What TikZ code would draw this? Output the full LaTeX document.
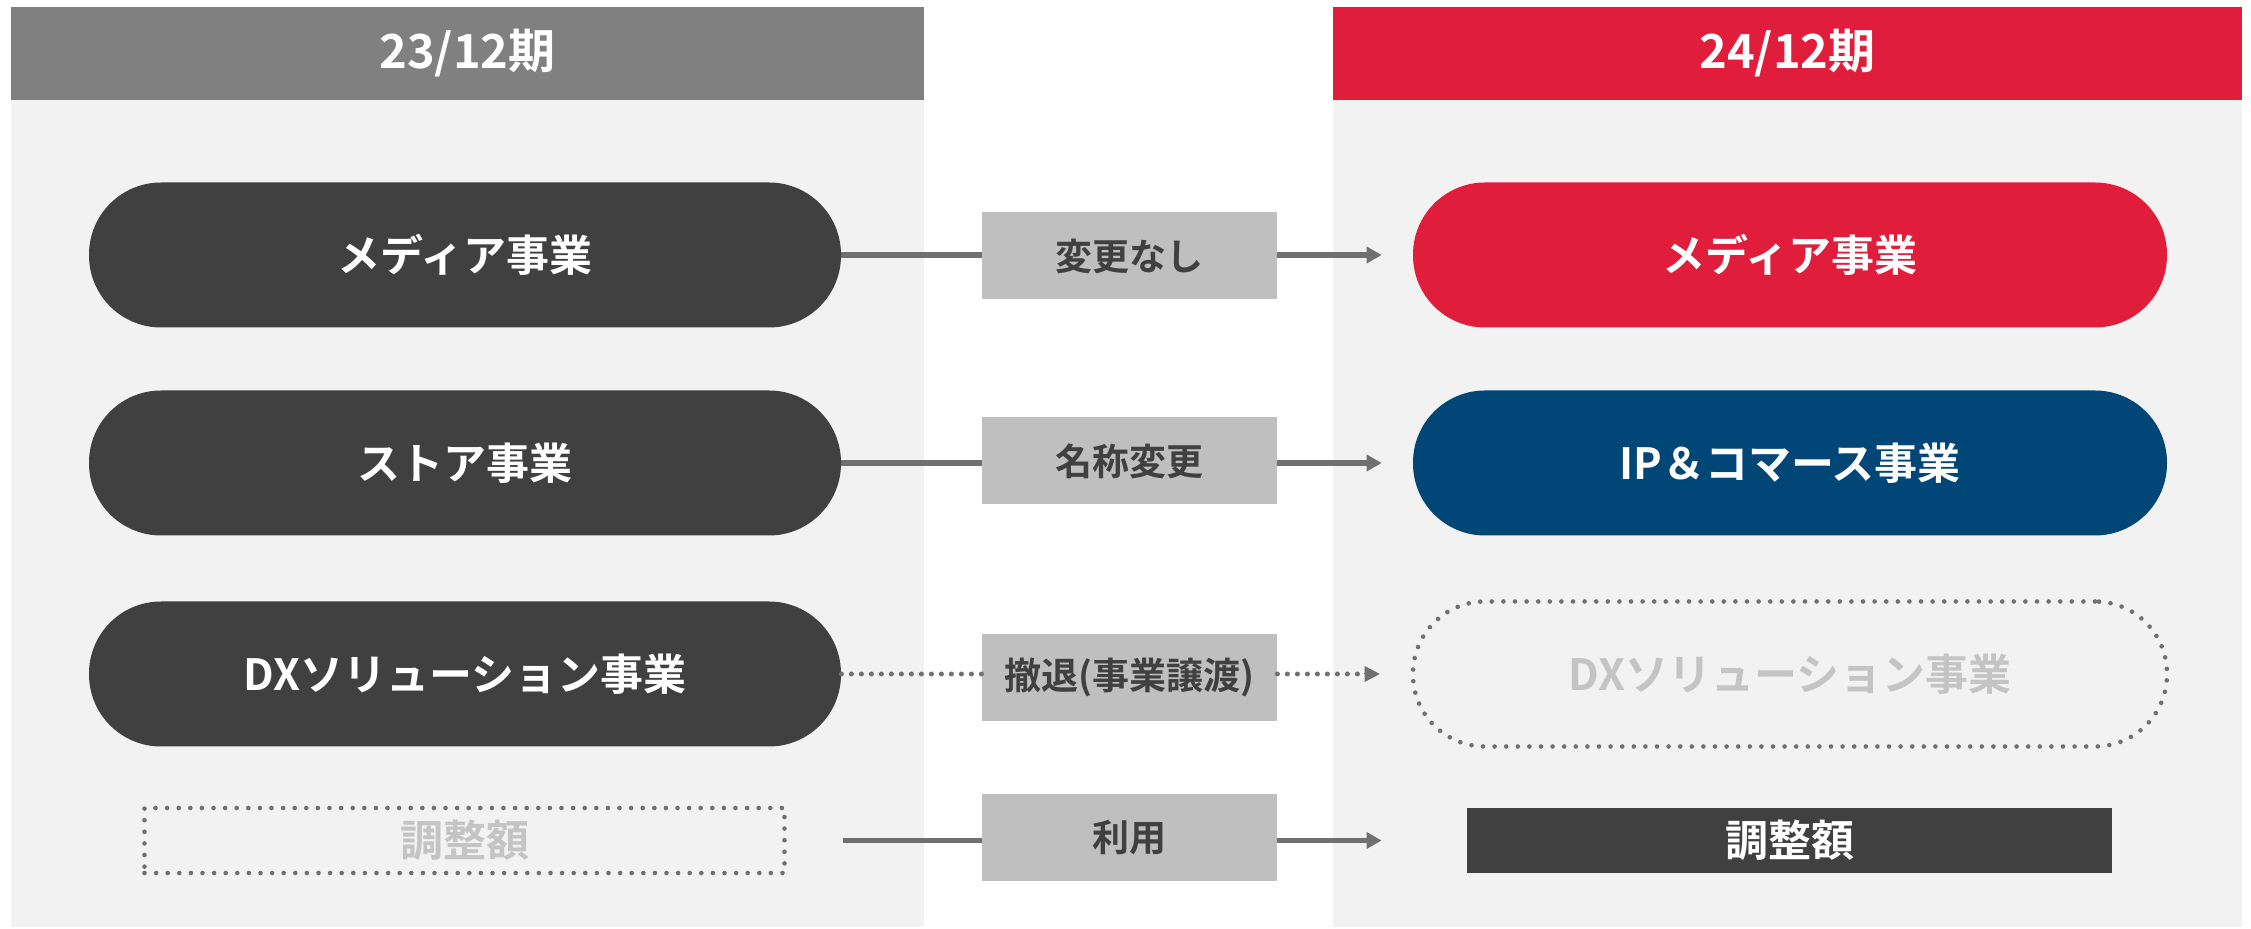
\documentclass[tikz,border=0pt]{standalone}
\usepackage{fontspec}
\setmainfont{Noto Sans CJK JP}[BoldFont={Noto Sans CJK JP Bold}]
\usetikzlibrary{arrows.meta,positioning}

\definecolor{darkbox}{HTML}{404040}
\definecolor{redbox}{HTML}{E01E3C}
\definecolor{bluebox}{HTML}{004677}
\definecolor{panel}{HTML}{F2F2F2}
\definecolor{headgray}{HTML}{808080}
\definecolor{labelgray}{HTML}{BFBFBF}
\definecolor{linegray}{HTML}{707070}
\definecolor{ghost}{HTML}{C4C4C4}

\tikzset{
  header/.style={minimum width=456.5pt,minimum height=46.5pt,inner sep=0pt,
    text=white,font=\fontsize{23.5}{27}\selectfont\bfseries},
  seg/.style={rounded corners=36pt,minimum width=376pt,minimum height=72.5pt,
    inner sep=0pt,text=white,font=\fontsize{21.5}{25}\selectfont\bfseries},
  adj/.style={minimum width=320pt,minimum height=32.5pt,inner sep=0pt,
    font=\fontsize{21.5}{25}\selectfont\bfseries},
  tag/.style={fill=labelgray,minimum width=147.5pt,minimum height=43.5pt,
    inner sep=0pt,text=darkbox,font=\fontsize{18.5}{22}\selectfont\bfseries},
  flow/.style={draw=linegray,line width=2.7pt},
  dots/.style={draw=linegray,line width=2.3pt,line cap=round,dash pattern=on 0pt off 5.8pt},
  linkdots/.style={dots,line width=2.5pt,dash pattern=on 0pt off 5pt},
  tip/.style={-{Triangle[length=7.5pt,width=8pt]}},
}

\begin{document}
\begin{tikzpicture}[x=0.5pt,y=-0.5pt]
  \useasboundingbox (0,0) rectangle (2251,929);
  % panels
  \fill[panel] (11,100) rectangle (924,927);
  \fill[panel] (1333,100) rectangle (2242,927);
  \node[header,fill=headgray] (oldhead) at (467.5,53.5) {23/12期};
  \node[header,fill=redbox,minimum width=454.5pt] (newhead) at (1787.5,53.5) {24/12期};

  % 23/12
  \node[seg,fill=darkbox] (oldmedia) at (465,255) {メディア事業};
  \node[seg,fill=darkbox] (oldstore) at (465,463) {ストア事業};
  \node[seg,fill=darkbox] (olddx) at (465,674) {DXソリューション事業};
  \node[adj,dots,text=ghost] (oldadj) at (464.5,840.5) {調整額};

  % 24/12
  \node[seg,fill=redbox,minimum width=377pt] (newmedia) at (1790,255) {メディア事業};
  \node[seg,fill=bluebox,minimum width=377pt] (newip) at (1790,463) {IP＆コマース事業};
  \node[seg,dots,text=ghost,minimum width=377pt] (newdx) at (1790,674) {DXソリューション事業};
  \node[adj,fill=darkbox,text=white,minimum width=322.5pt] (newadj) at (1789.5,840.5) {調整額};

  % changes
  \node[tag] (same) at (1129.5,256) {変更なし};
  \node[tag] (rename) at (1129.5,461) {名称変更};
  \node[tag] (exit) at (1129.5,678) {撤退(事業譲渡)};
  \node[tag] (use) at (1129.5,838) {利用};

  \draw[flow] (oldmedia.east) -- (same.west |- oldmedia.east);
  \draw[flow,tip,shorten >=15.5pt] (same.east |- oldmedia.east) -- (newmedia.west);
  \draw[flow] (oldstore.east) -- (rename.west |- oldstore.east);
  \draw[flow,tip,shorten >=15.5pt] (rename.east |- oldstore.east) -- (newip.west);
  \draw[linkdots] (olddx.east) -- (exit.west |- olddx.east);
  \draw[linkdots] (exit.east |- olddx.east) -- ([xshift=-21pt]newdx.west);
  \draw[linegray,tip,line width=0pt] ([xshift=-23pt]newdx.west) -- ([xshift=-15.5pt]newdx.west);
  \draw[flow,shorten <=28pt] (oldadj.east) -- (use.west |- oldadj.east);
  \draw[flow,tip,shorten >=42.5pt] (use.east |- oldadj.east) -- (newadj.west);
\end{tikzpicture}
\end{document}
